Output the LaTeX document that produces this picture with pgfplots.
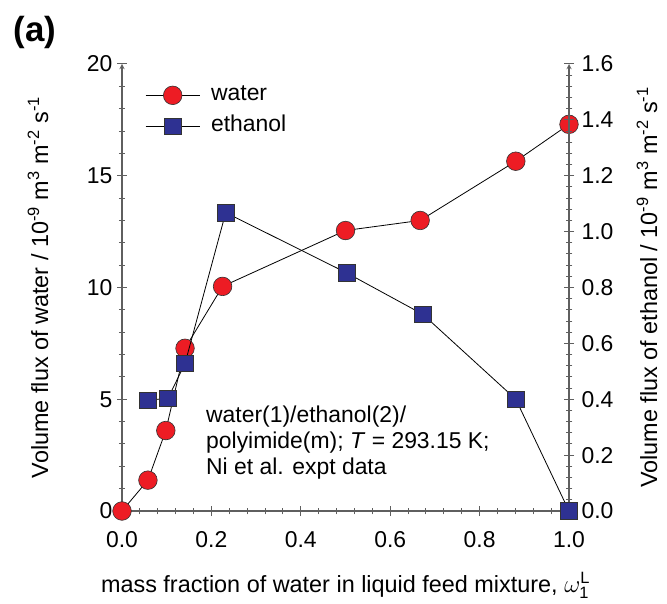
\documentclass[border=0pt]{standalone}
\usepackage{pgfplots}
\pgfplotsset{compat=1.18}
\usepackage{fontspec}
\setmainfont{Liberation Sans}

\definecolor{waterred}{RGB}{237,28,36}
\definecolor{ethblue}{RGB}{46,49,146}
\definecolor{axisgray}{RGB}{95,95,95}

\pgfplotsset{
  common/.style={
    scale only axis, width=447bp, height=447bp,
    xmin=0, xmax=1, clip=false,
    tick align=inside,
    major tick length=10bp, minor tick length=6.5bp,
    every tick/.style={axisgray, line width=1bp},
    axis line style={axisgray, line width=1.3bp, -},
    tick label style={font=\fontsize{23}{26}\selectfont},
    /pgf/number format/assume math mode=true,
    minor tick num=4,
  },
  waterplot/.style={black, line width=0.8bp, mark=*, mark size=9.3bp,
    mark options={fill=waterred, draw=black!80, line width=0.6bp}},
  ethplot/.style={black, line width=0.8bp, mark=square*, mark size=8.3bp,
    mark options={fill=ethblue, draw=black!80, line width=0.6bp}},
}

\begin{document}
\begin{tikzpicture}
\useasboundingbox (-122bp,-93bp) rectangle (545bp,511bp);

% water flux, left axis
\begin{axis}[common,
  axis x line=bottom, axis y line=left,
  ymin=0, ymax=20, ytick={0,5,10,15,20},
  xtick={0,0.2,0.4,0.6,0.8,1},
  xticklabel style={/pgf/number format/.cd, fixed, fixed zerofill, precision=1},
  xticklabel shift=12bp, yticklabel shift=1bp,
]
\addplot[waterplot] coordinates {
  (0.000, 0.00) (0.058, 1.38) (0.098, 3.60) (0.141, 7.28) (0.225, 10.05)
  (0.500, 12.55) (0.667, 13.00) (0.881, 15.65) (1.000, 17.30)
};
\end{axis}

% ethanol flux, right axis
\begin{axis}[common,
  axis x line=none, axis y line=right,
  ymin=0, ymax=1.6, ytick={0,0.2,0.4,0.6,0.8,1.0,1.2,1.4,1.6},
  yticklabel style={/pgf/number format/.cd, fixed, fixed zerofill, precision=1},
  yticklabel shift=4bp,
  legend cell align=left,
  legend image code/.code={\draw[mark repeat=2,mark phase=2,#1]
    plot coordinates {(0bp,0bp) (27bp,0bp) (54bp,0bp)};},
  legend style={at={(0.045,0.965)}, anchor=north west, draw=none, fill=none,
    font=\fontsize{23}{26}\selectfont, row sep=4bp, column sep=7bp,
    nodes={inner ysep=2bp, inner xsep=4bp, text height=17bp, text depth=6bp}},
]
\addlegendimage{waterplot}
\addlegendentry{water}
\addplot[ethplot] coordinates {
  (0.058, 0.396) (0.103, 0.404) (0.141, 0.528) (0.232, 1.068)
  (0.503, 0.852) (0.673, 0.704) (0.881, 0.400) (1.000, 0.000)
};
\addlegendentry{ethanol}
\end{axis}

% panel tag, axis titles and annotation
\node[font=\fontsize{35}{39}\bfseries\selectfont] at (-87bp,479bp) {(a)};
\node[rotate=90, font=\fontsize{23.5}{27}\selectfont] at (-84bp,223.5bp)
  {Volume flux of water / 10\textsuperscript{-9} m\textsuperscript{3} m\textsuperscript{-2} s\textsuperscript{-1}};
\node[rotate=90, font=\fontsize{23.5}{27}\selectfont] at (525bp,223.5bp)
  {Volume flux of ethanol / 10\textsuperscript{-9} m\textsuperscript{3} m\textsuperscript{-2} s\textsuperscript{-1}};
\node[anchor=base, font=\fontsize{23.5}{27}\selectfont] at (223.5bp,-81bp)
  {mass fraction of water in liquid feed mixture, $\omega_{\mathrm{1}}^{\mathrm{L}}$};
\node[anchor=north west, align=left, inner sep=0pt,
  font=\fontsize{23}{26}\selectfont] at (84bp,105bp)
  {water(1)/ethanol(2)/\\polyimide(m); \textit{T} = 293.15 K;\\Ni et al. expt data};
\end{tikzpicture}
\end{document}
